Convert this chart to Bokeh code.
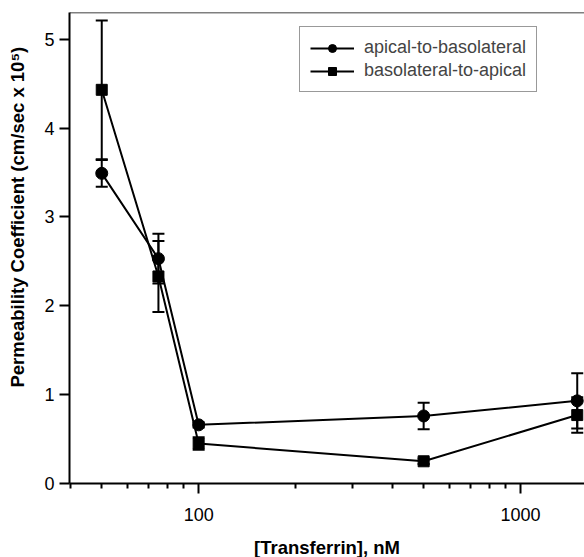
from bokeh.plotting import figure
from bokeh.models import (ColumnDataSource, Range1d, FixedTicker, Whisker, TeeHead,
                          Span, Legend, LegendItem)
from bokeh.embed import file_html
from bokeh.resources import INLINE

# ---- data ----
conc = [50, 75, 100, 500, 1500]
ap_bl = [3.49, 2.53, 0.66, 0.76, 0.93]
ap_bl_err = [0.15, 0.28, 0.03, 0.15, 0.31]
bl_ap = [4.43, 2.33, 0.45, 0.25, 0.77]
bl_ap_err = [0.78, 0.40, 0.07, 0.03, 0.20]

x_major = [100, 1000]
x_minor = [40, 50, 60, 70, 80, 90, 200, 300, 400, 500, 600, 700, 800, 900]
y_ticks = [0, 1, 2, 3, 4, 5]
x_lo, x_hi = 39.7, 1580
y_lo, y_hi = 0, 5.30

FONT = "Liberation Sans"

p = figure(frame_width=515, frame_height=471, x_axis_type="log",
           x_range=Range1d(x_lo, x_hi), y_range=Range1d(y_lo, y_hi),
           output_backend="svg", toolbar_location=None,
           min_border_left=69, min_border_right=0, min_border_top=12, min_border_bottom=0)

p.grid.visible = False
p.outline_line_color = None
p.background_fill_color = "white"
p.border_fill_color = "white"

src_a = ColumnDataSource(dict(x=conc, y=ap_bl,
                              upper=[v + e for v, e in zip(ap_bl, ap_bl_err)],
                              lower=[v - e for v, e in zip(ap_bl, ap_bl_err)]))
src_b = ColumnDataSource(dict(x=conc, y=bl_ap,
                              upper=[v + e for v, e in zip(bl_ap, bl_ap_err)],
                              lower=[v - e for v, e in zip(bl_ap, bl_ap_err)]))

for src in (src_a, src_b):
    w = Whisker(source=src, base="x", upper="upper", lower="lower", dimension="height",
                line_color="black", line_width=2,
                upper_head=TeeHead(size=12, line_width=2, line_color="black"),
                lower_head=TeeHead(size=12, line_width=2, line_color="black"))
    p.add_layout(w)

la = p.line("x", "y", source=src_a, line_color="black", line_width=2)
ma = p.scatter("x", "y", source=src_a, marker="circle", size=12,
               fill_color="black", line_color="black")
lb = p.line("x", "y", source=src_b, line_color="black", line_width=2)
mb = p.scatter("x", "y", source=src_b, marker="square", size=11,
               fill_color="black", line_color="black")

top = Span(location=y_hi, dimension="width", line_color="black", line_width=1.5)
p.add_layout(top)

legend = Legend(items=[LegendItem(label="apical-to-basolateral", renderers=[la, ma]),
                       LegendItem(label="basolateral-to-apical", renderers=[lb, mb])],
                location=(230, 391), glyph_width=44, glyph_height=20,
                label_height=20, spacing=2, padding=10, label_standoff=10,
                margin=0,
                label_text_font=FONT, label_text_font_size="18px",
                border_line_color="#333333", border_line_width=1,
                background_fill_color="white", background_fill_alpha=1)
p.add_layout(legend)

# x axis
xa = p.xaxis[0]
xa.ticker = FixedTicker(ticks=x_major, minor_ticks=x_minor)
xa.major_label_overrides = {100: "100", 1000: "1000"}
xa.axis_label = "[Transferrin], nM"

ya = p.yaxis[0]
ya.ticker = FixedTicker(ticks=y_ticks, minor_ticks=[])
ya.axis_label = "\u00a0" * 12 + "Permeability Coefficient (cm/sec x 10\u2075)"

for ax in (xa, ya):
    ax.axis_line_width = 2
    ax.axis_line_color = "black"
    ax.major_tick_line_width = 2
    ax.minor_tick_line_width = 2
    ax.major_tick_in = 0
    ax.minor_tick_in = 0
    ax.major_tick_out = 10
    ax.minor_tick_out = 5
    ax.major_label_text_font = FONT
    ax.major_label_text_font_size = "18px"
    ax.major_label_text_color = "black"
    ax.axis_label_text_font = FONT
    ax.axis_label_text_font_size = "18.5px"
    ax.axis_label_text_font_style = "bold"
    ax.axis_label_text_color = "black"

xa.major_label_standoff = 14
xa.axis_label_standoff = 13
ya.major_label_standoff = 5
ya.axis_label_standoff = 13

open("out.html", "w").write(file_html(p, INLINE))
